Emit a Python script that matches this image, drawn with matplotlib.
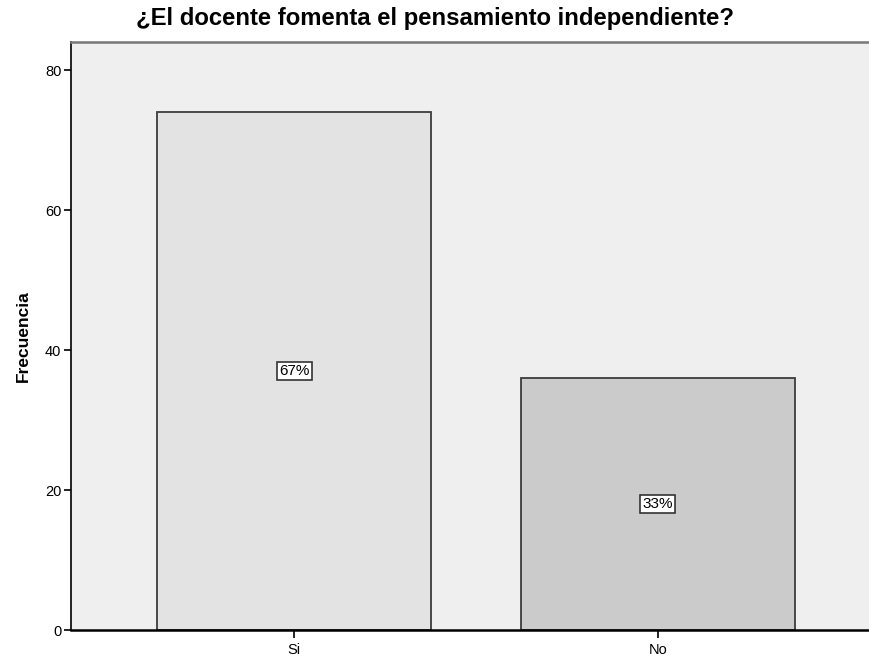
import matplotlib.pyplot as plt

# data
categories = ["Si", "No"]
counts = [74, 36]
bar_colors = ["#e3e3e3", "#cbcbcb"]

total = sum(counts)
percents = [round(c / total * 100) for c in counts]

plt.rcParams["font.family"] = ["Liberation Sans", "DejaVu Sans"]

fig = plt.figure(figsize=(8.69, 6.57), dpi=100)
W, H = 869, 657
ax = fig.add_axes([71 / W, 27 / H, (881 - 71) / W, 588 / H])
ax.set_facecolor("#efefef")

x = list(range(len(categories)))
ax.bar(x, counts, width=0.753, color=bar_colors, edgecolor="#3c3c3c", linewidth=1.3, zorder=2)

# percent labels in boxes
for xi, c, p in zip(x, counts, percents):
    ax.text(xi, c / 2, f"{p}%", ha="center", va="center", fontsize=11, zorder=3,
            bbox=dict(boxstyle="square,pad=0.15", facecolor="white", edgecolor="#333333", linewidth=1.2))

ax.set_xlim(-0.613, 1.613)
ax.set_ylim(0, 84)
ax.set_xticks(x)
ax.set_xticklabels(categories)
ax.set_yticks([0, 20, 40, 60, 80])
ax.tick_params(axis="y", length=5, width=1.2, pad=2, labelsize=10.5, color="black")
ax.tick_params(axis="x", length=6, width=1.2, pad=3, labelsize=10.5, color="black")

ax.spines["right"].set_visible(False)
ax.spines["left"].set_color("black")
ax.spines["left"].set_linewidth(1.2)
ax.spines["bottom"].set_color("black")
ax.spines["bottom"].set_linewidth(1.8)
ax.spines["top"].set_color("#777777")
ax.spines["top"].set_linewidth(1.8)

ax.set_ylabel("Frecuencia", fontsize=12.5, fontweight="bold", labelpad=10)
fig.text(435 / W, 1 - 19 / H, "¿El docente fomenta el pensamiento independiente?",
         ha="center", va="center", fontsize=17.2, fontweight="bold")

plt.savefig("out.png", dpi=100)
